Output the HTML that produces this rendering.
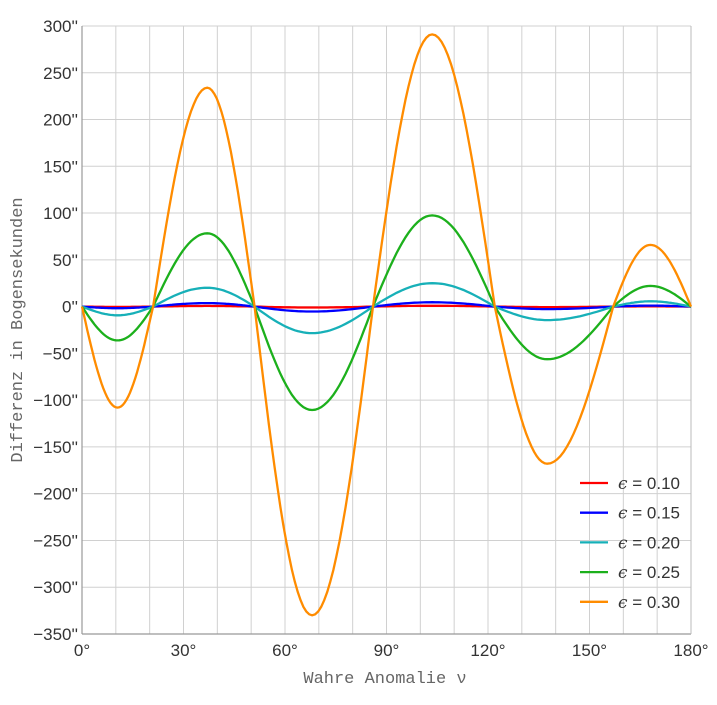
<!DOCTYPE html>
<html><head><meta charset="utf-8"><style>
body{margin:0;background:#fff}
svg text{font-family:"Liberation Sans",sans-serif;fill:#333;font-size:17px}
</style></head><body>
<svg id="s" width="717" height="700" xmlns="http://www.w3.org/2000/svg">
<g id="grid" stroke="#d0d0d0" stroke-width="1"></g>
<line x1="82" y1="26" x2="82" y2="634" stroke="#999" stroke-width="1.2"/>
<line x1="82" y1="634" x2="691" y2="634" stroke="#999" stroke-width="1.2"/>
<line x1="691" y1="26" x2="691" y2="634" stroke="#bbb" stroke-width="1"/>
<g id="ylab" text-anchor="end"></g>
<g id="xlab" text-anchor="middle"></g>
<g id="curves" fill="none" stroke-width="2.3"></g>
<g id="leg"></g>
<text x="22" y="330" transform="rotate(-90 22 330)" text-anchor="middle" style="font-family:'Liberation Mono',monospace;font-size:17px;fill:#666">Differenz in Bogensekunden</text>
<text x="385" y="683" text-anchor="middle" style="font-family:'Liberation Mono',monospace;font-size:17px;fill:#666">Wahre Anomalie ν</text>
</svg>
<script>
var NS="http://www.w3.org/2000/svg";
function X(d){return 82+d*609/180}
function Y(v){return 306.6-v*46.77/50}
function el(p,t,a,txt){var e=document.createElementNS(NS,t);for(var k in a)e.setAttribute(k,a[k]);if(txt!=null)e.innerHTML=txt;document.getElementById(p).appendChild(e);return e}
for(var d=10;d<=180;d+=10)el("grid","line",{x1:X(d),y1:26,x2:X(d),y2:634});
for(var v=300;v>=-350;v-=50){el("grid","line",{x1:82,y1:Y(v),x2:691,y2:Y(v)});
el("ylab","text",{x:78,y:Y(v)+6},(v<0?"\u2212"+(-v):v)+"''");}
for(var d=0;d<=180;d+=30)el("xlab","text",{x:X(d),y:656},d+"°");
var pts=[[0,0],[10.5,-108],[21,0],[37,234],[51,0],[68,-330],[86,0],[103.5,291],[122,0],[137.5,-168],[157,0],[168,66],[180,0]];
var ser=[["#ff0000",0.003,0.10],["#0000ff",0.016,0.15],["#17b0b8",0.086,0.20],["#1cb01c",0.335,0.25],["#ff8c00",1,0.30]];
ser.forEach(function(s,i){
 var dd="";
 for(var j=0;j<pts.length-1;j++){
  var a=pts[j],b=pts[j+1];
  for(var k=0;k<=20;k++){var t=k/20,deg=a[0]+(b[0]-a[0])*t,val;
   if(a[1]==0)val=b[1]*Math.sin(Math.PI/2*t);else val=a[1]*Math.cos(Math.PI/2*t);
   dd+=(dd?"L":"M")+X(deg).toFixed(1)+" "+Y(val*s[1]).toFixed(1);}
 }
 el("curves","path",{d:dd,stroke:s[0]});
 var y=483+i*29.7;
 el("leg","line",{x1:580,y1:y,x2:608,y2:y,stroke:s[0],"stroke-width":2.3});
 el("leg","text",{x:618,y:y+6},'<tspan style="font-family:\'DejaVu Serif\',serif;font-style:italic">\u03f5</tspan> = '+s[2].toFixed(2));
});
</script>
</body></html>
